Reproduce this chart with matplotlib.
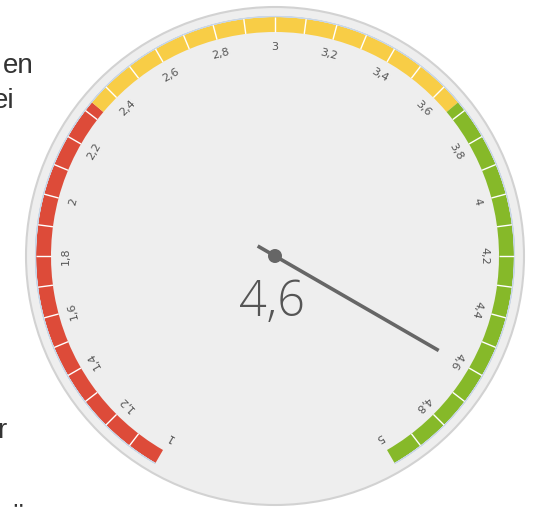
import numpy as np
import matplotlib
matplotlib.use("Agg")
import matplotlib.pyplot as plt
from matplotlib.patches import Wedge, Circle

# ---- data ----
gauge_min = 1.0
gauge_max = 5.0
value = 4.6
value_label = "4,6"
band_starts = [1.0, 2.3333, 3.6667]
band_ends = [2.3333, 3.6667, 5.0]
band_colors = ["#dd4b39", "#f8cd46", "#86b929"]
major_ticks = [1.0, 1.2, 1.4, 1.6, 1.8, 2.0, 2.2, 2.4, 2.6, 2.8, 3.0,
               3.2, 3.4, 3.6, 3.8, 4.0, 4.2, 4.4, 4.6, 4.8, 5.0]
major_labels = ["1", "1,2", "1,4", "1,6", "1,8", "2", "2,2", "2,4", "2,6", "2,8", "3",
                "3,2", "3,4", "3,6", "3,8", "4", "4,2", "4,4", "4,6", "4,8", "5"]
minor_step = 0.1

W, H = 544, 507
fig = plt.figure(figsize=(W / 100, H / 100), dpi=100)
ax = fig.add_axes([0, 0, 1, 1])
ax.set_xlim(0, W)
ax.set_ylim(0, H)
ax.set_aspect("equal")
ax.axis("off")

cx, cy = 275, H - 256
sweep = 300.0


def theta(v):
    # clockwise degrees from top
    return -sweep / 2 + (v - gauge_min) / (gauge_max - gauge_min) * sweep


def pt(v, r):
    t = np.deg2rad(theta(v))
    return cx + r * np.sin(t), cy + r * np.cos(t)


# face
ax.add_patch(Circle((cx, cy), 249, facecolor="#eeeeee", edgecolor="#d2d2d2", lw=1.5, zorder=1))

r_out, r_in = 239, 224
for s, e, c in zip(band_starts, band_ends, band_colors):
    ax.add_patch(Wedge((cx, cy), r_out, 90 - theta(e), 90 - theta(s),
                       width=r_out - r_in, facecolor=c, edgecolor="none", zorder=2))
ax.add_patch(Wedge((cx, cy), r_out + 0.5, 90 - theta(gauge_max), 90 - theta(gauge_min),
                   width=0.01, facecolor="none", edgecolor="#c9d6e6", lw=0.8, zorder=2))

# minor white ticks across the band
n_minor = int(round((gauge_max - gauge_min) / minor_step))
for i in range(1, n_minor):
    v = gauge_min + i * minor_step
    x0, y0 = pt(v, r_in)
    x1, y1 = pt(v, r_out)
    ax.plot([x0, x1], [y0, y1], color="white", lw=1.0, zorder=3, solid_capstyle="butt")

# labels
r_lab = 209
for v, lab in zip(major_ticks, major_labels):
    x, y = pt(v, r_lab)
    ax.text(x, y, lab, rotation=-theta(v), rotation_mode="anchor", ha="center", va="center",
            fontsize=8, color="#555555", family="DejaVu Sans", zorder=4)

# needle
xe, ye = pt(value, 189)
t = np.deg2rad(theta(value))
xt, yt = cx - 20 * np.sin(t), cy - 20 * np.cos(t)
ax.plot([xt, xe], [yt, ye], color="#666666", lw=2.6, solid_capstyle="butt", zorder=5)
ax.add_patch(Circle((cx, cy), 7, facecolor="#666666", edgecolor="none", zorder=6))

# value
ax.text(cx - 3, H - 303, value_label, ha="center", va="center", fontsize=35,
        color="#555555", family="Open Sans", fontweight="light", zorder=6)

# page text fragments on the left
frag_kw = dict(fontsize=20, color="#333333", family="Liberation Sans", ha="right")
ax.text(34, H - 73, "en", va="baseline", **frag_kw)
ax.text(15, H - 108, "ei", va="baseline", **frag_kw)
ax.text(6, H - 438, "r", va="baseline", **frag_kw)
ax.text(26, H - 503, "ü", va="top", **frag_kw)

fig.savefig("out.png", dpi=100)
